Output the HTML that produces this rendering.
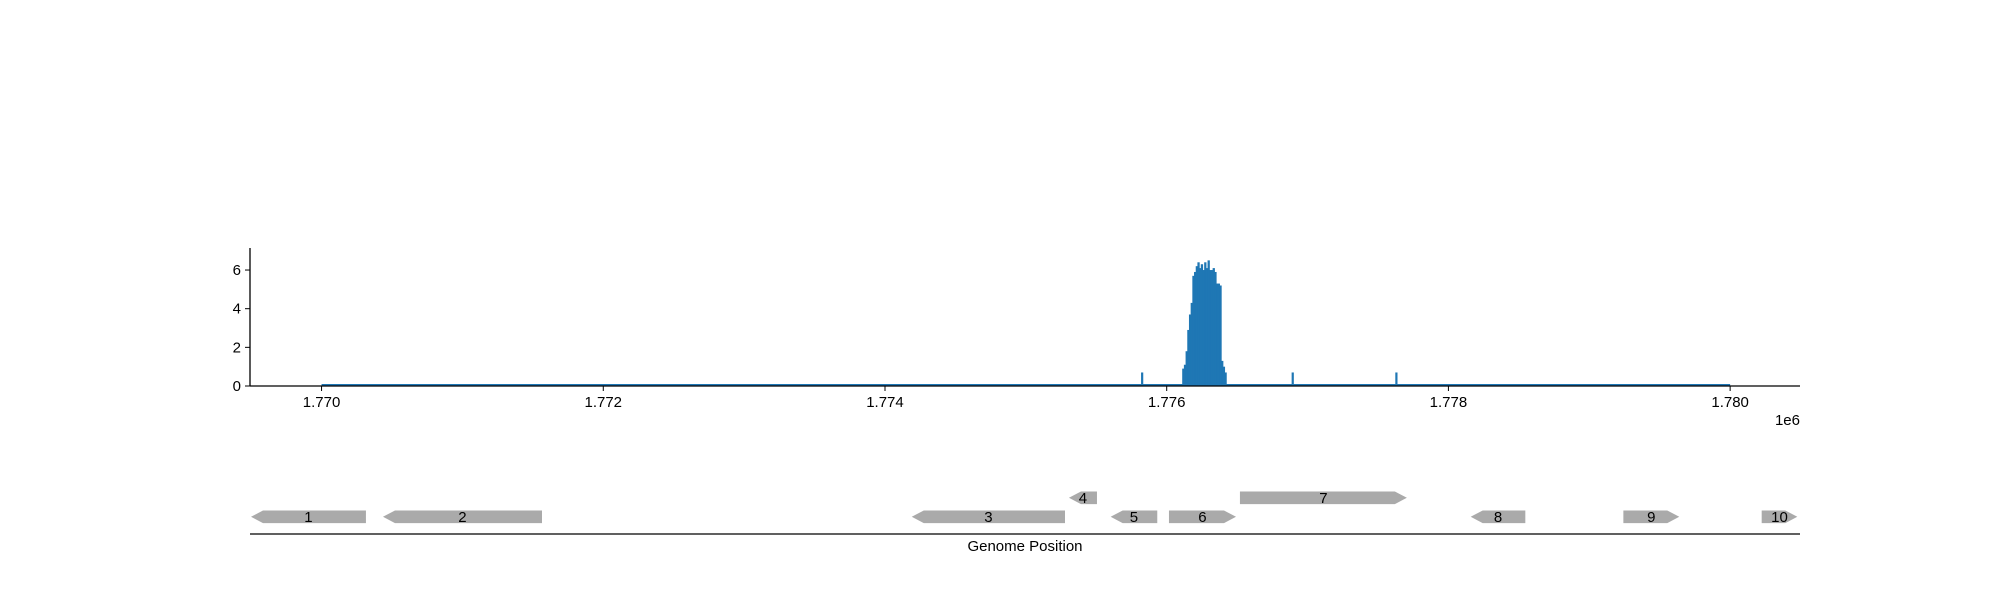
<!DOCTYPE html>
<html><head><meta charset="utf-8"><style>
html,body{margin:0;padding:0;background:#fff;}
svg{display:block;font-family:"Liberation Sans","DejaVu Sans",sans-serif;}
</style></head><body>
<svg id="chart" width="2000" height="600" xmlns="http://www.w3.org/2000/svg">
<g id="cov"></g>
<g id="axes"></g>
<g id="genes"></g>
</svg>
<script>
const covStarts=[1776110,1776122,1776134,1776146,1776158,1776170,1776182,1776194,1776206,1776218,1776230,1776242,1776254,1776266,1776278,1776290,1776302,1776314,1776326,1776338,1776350,1776362,1776374,1776386,1776398,1776410];
const covValues=[0.9,1.1,1.8,2.9,3.7,4.3,5.7,5.9,6.2,6.4,6.1,6.3,6.0,6.4,6.1,6.5,6.0,6.0,6.1,5.9,5.3,5.3,5.2,1.3,1.0,0.7];
const spikePos=[1775825,1776894,1777630];
const spikeVals=[0.7,0.7,0.7];
const yTicks=[0,2,4,6];
const xTicks=[1770000,1772000,1774000,1776000,1778000,1780000];
const xTickLabels=["1.770","1.772","1.774","1.776","1.778","1.780"];
const geneNames=["1","2","3","4","5","6","7","8","9","10"];
const geneStart=[1769499,1770436,1774190,1775306,1775602,1776016,1776520,1778158,1779242,1780224];
const geneEnd=[1770315,1771565,1775278,1775505,1775933,1776492,1777705,1778546,1779639,1780477];
const geneStrand=[-1,-1,-1,-1,-1,1,1,-1,1,1];
const geneRow=[0,0,0,1,0,0,1,0,0,0];

const NS="http://www.w3.org/2000/svg";
const X0=250,X1=1800,XMIN=1769492,XMAX=1780496;
const Y0=386,YTOP=248,YMAXV=7.14;
const sx=v=>X0+(v-XMIN)/(XMAX-XMIN)*(X1-X0);
const sy=v=>Y0-v/YMAXV*(Y0-YTOP);
function mk(tag,attrs,parent){const e=document.createElementNS(NS,tag);for(const k in attrs)e.setAttribute(k,attrs[k]);parent.appendChild(e);return e;}
const cov=document.getElementById('cov'),axes=document.getElementById('axes'),genes=document.getElementById('genes');
const blue="#1f77b4";
let bl=mk('line',{x1:sx(1770000),x2:sx(1780000),y1:Y0-1,y2:Y0-1,stroke:blue,'stroke-width':2},cov);


for(let i=0;i<covStarts.length;i++){
  const x=sx(covStarts[i]),w=sx(covStarts[i]+12)-x;
  const r=mk('rect',{x:x,y:sy(covValues[i]),width:w+0.6,height:Y0-sy(covValues[i]),fill:blue},cov);
  
  
}
for(let i=0;i<spikePos.length;i++){
  const x=sx(spikePos[i]);
  const r=mk('rect',{x:x-1,y:sy(spikeVals[i]),width:2.2,height:Y0-sy(spikeVals[i]),fill:blue},cov);
  
  
}
mk('line',{x1:X0,x2:X0,y1:YTOP,y2:Y0,stroke:'#000','stroke-width':1.3},axes);
mk('line',{x1:X0,x2:X1,y1:Y0,y2:Y0,stroke:'#000','stroke-width':1.3},axes);
yTicks.forEach(v=>{
  mk('line',{x1:X0-5,x2:X0,y1:sy(v),y2:sy(v),stroke:'#000','stroke-width':1},axes);
  const t=mk('text',{x:X0-9,y:sy(v)+5,'text-anchor':'end','font-size':15,fill:'#000'},axes);
  t.textContent=v;
  
  
});
xTicks.forEach((v,i)=>{
  mk('line',{x1:sx(v),x2:sx(v),y1:Y0,y2:Y0+5,stroke:'#000','stroke-width':1},axes);
  const t=mk('text',{x:sx(v),y:Y0+21,'text-anchor':'middle','font-size':15,fill:'#000'},axes);
  t.textContent=xTickLabels[i];
  
  
});
const off=mk('text',{x:X1,y:425,'text-anchor':'end','font-size':15,fill:'#000'},axes);
off.textContent="1e6";


mk('line',{x1:X0,x2:X1,y1:534,y2:534,stroke:'#000','stroke-width':1.3},genes);
const gl=mk('text',{x:1025,y:551,'text-anchor':'middle','font-size':15,fill:'#000'},genes);
gl.textContent="Genome Position";


for(let i=0;i<geneNames.length;i++){
  const a=sx(geneStart[i]),b=sx(geneEnd[i]);
  const top=geneRow[i]?491.5:510.5,h=12.6,mid=top+h/2;
  const hl=Math.min(12,(b-a)/2);
  let pts;
  if(geneStrand[i]<0) pts=`${a},${mid} ${a+hl},${top} ${b},${top} ${b},${top+h} ${a+hl},${top+h}`;
  else pts=`${a},${top} ${b-hl},${top} ${b},${mid} ${b-hl},${top+h} ${a},${top+h}`;
  const p=mk('polygon',{points:pts,fill:'#aaaaaa'},genes);
  
  
  const t=mk('text',{x:(a+b)/2,y:mid+5,'text-anchor':'middle','font-size':15,fill:'#000'},genes);
  t.textContent=geneNames[i];
  
  
}
</script>
</body></html>
